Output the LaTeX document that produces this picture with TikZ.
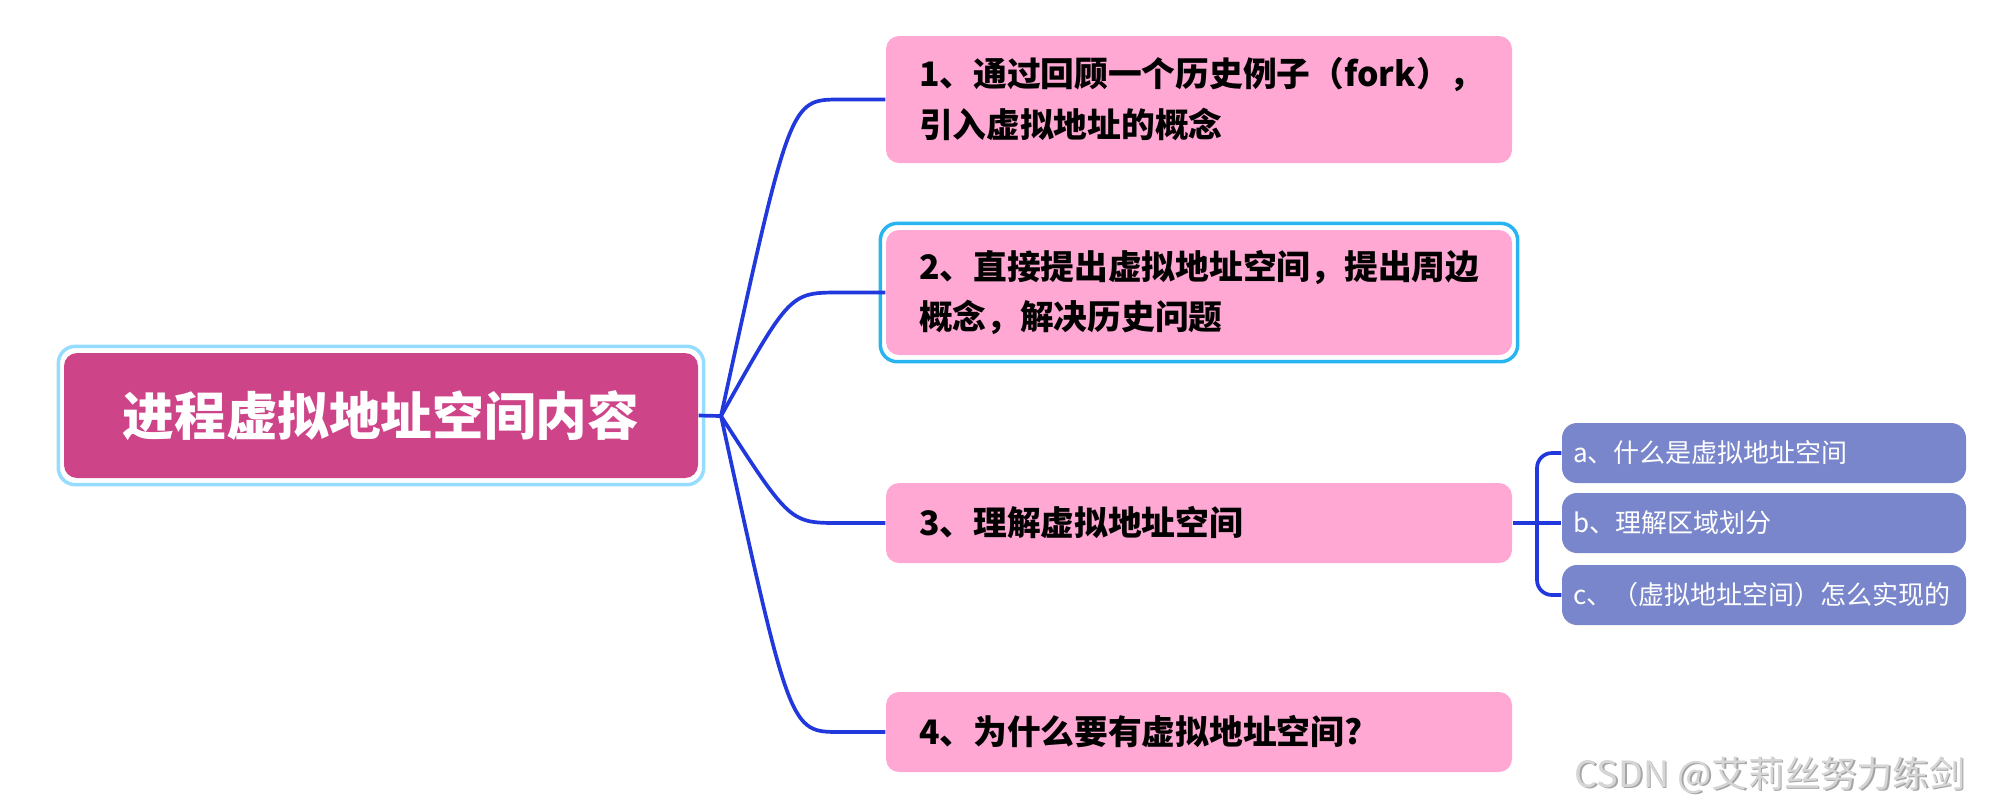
\documentclass[tikz,border=0pt]{standalone}
\usepackage{fontspec}
\setmainfont{Noto Sans CJK SC}
\usetikzlibrary{fit}
\definecolor{rosemain}{RGB}{205,68,137}
\definecolor{pinkbox}{RGB}{255,168,212}
\definecolor{indigosub}{RGB}{121,134,203}
\definecolor{branchblue}{RGB}{32,56,220}
\definecolor{ringpale}{RGB}{150,220,255}
\definecolor{ringsky}{RGB}{40,180,240}
\definecolor{markgray}{RGB}{214,214,214}
\definecolor{markshade}{RGB}{165,165,165}

\tikzset{
  rootbox/.style={fill=rosemain,rounded corners=0.13cm,minimum width=6.34cm,
    minimum height=1.25cm,text=white,font=\fontsize{14.7}{17}\selectfont\bfseries},
  topicbox/.style={fill=pinkbox,rounded corners=0.13cm,minimum width=6.26cm,
    text width=5.6cm,inner xsep=0.33cm,align=left,
    font=\fontsize{9.6}{14.5}\selectfont\bfseries},
  subbox/.style={fill=indigosub,rounded corners=0.15cm,minimum width=4.04cm,
    minimum height=0.6cm,text width=3.82cm,inner xsep=0.11cm,align=left,
    text=white,font=\fontsize{7.4}{9}\selectfont},
  ring/.style={draw=#1,rounded corners=0.17cm,line width=0.035cm,
    inner xsep=0.05cm,inner ysep=0.06cm},
  branch/.style={draw=branchblue,line width=1.05pt},
  markfont/.style={anchor=east,inner sep=0pt,font=\fontsize{10.3}{12}\selectfont}
}

\begin{document}
\begin{tikzpicture}
  \useasboundingbox (0,0) rectangle (20.08,-8.10);

  \node[rootbox] (root) at (3.81,-4.155) {进程虚拟地址空间内容};
  \node[ring=ringpale,fit=(root)] (rootring) {};

  \node[topicbox,minimum height=1.27cm] (n1) at (11.99,-0.995)
    {1、通过回顾一个历史例子（fork），\\引入虚拟地址的概念};
  \node[topicbox,minimum height=1.25cm] (n2) at (11.99,-2.925)
    {2、直接提出虚拟地址空间，提出周边\\概念，解决历史问题};
  \node[ring=ringsky,fit=(n2)] (n2ring) {};
  \node[topicbox,minimum height=0.8cm] (n3) at (11.99,-5.23)
    {3、理解虚拟地址空间};
  \node[topicbox,minimum height=0.8cm] (n4) at (11.99,-7.32)
    {4、为什么要有虚拟地址空间?};

  \node[subbox] (sa) at (17.64,-4.53) {a、什么是虚拟地址空间};
  \node[subbox] (sb) at (17.64,-5.23) {b、理解区域划分};
  \node[subbox] (sc) at (17.64,-5.95) {c、（虚拟地址空间）怎么实现的};

  \coordinate (hub) at (7.21,-4.16);
  \coordinate (bendx) at (7.90,0);
  \coordinate (flatx) at (8.40,0);
  \coordinate (brk) at (15.37,-5.23);

  \draw[branch] (root.east) -- (hub);
  \foreach \t in {n1,n2,n3,n4}
    \draw[branch] (hub) .. controls (bendx |- \t.west) .. (flatx |- \t.west) -- (\t.west);

  \draw[branch] (n3.east) -- (sb.west);
  \draw[branch,rounded corners=0.15cm] (sa.west) -| (brk) |- (sc.west);

  \node[markfont,text=markshade] (markback) at (19.675,-7.765) {CSDN @艾莉丝努力练剑};
  \node[markfont,text=markgray] (mark) at (19.66,-7.75) {CSDN @艾莉丝努力练剑};
\end{tikzpicture}
\end{document}
